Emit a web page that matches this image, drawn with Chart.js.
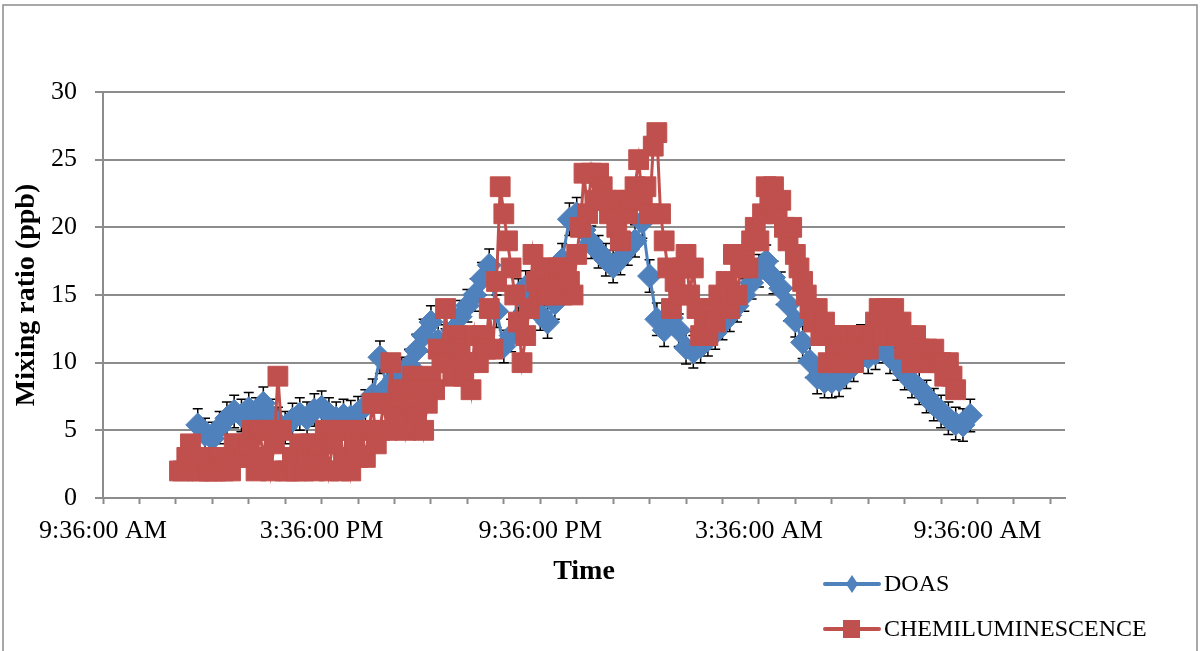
<!DOCTYPE html>
<html>
<head>
<meta charset="utf-8">
<script src="https://cdn.jsdelivr.net/npm/chart.js@4.4.0/dist/chart.umd.min.js"></script>
<style>
  body { margin: 0; background: #fff; }
  #graph { display: block; }
</style>
</head>
<body>
<canvas id="graph" width="1202" height="651"></canvas>
<script>
// times are hour of day; values above 24 belong to the next morning
var doasHours = [
  12.2, 12.4, 12.6, 12.8, 13.0, 13.2, 13.4, 13.6, 13.8, 14.0,
  14.2, 14.4, 14.6, 14.8, 15.0, 15.2, 15.4, 15.6, 15.8, 16.0,
  16.2, 16.4, 16.6, 16.8, 17.0, 17.2, 17.4, 17.6, 17.8, 18.0,
  18.2, 18.4, 18.6, 18.8, 19.0, 19.2, 19.4, 19.6, 19.8, 20.0,
  20.2, 20.4, 20.6, 20.8, 21.0, 21.2, 21.4, 21.6, 21.8, 22.0,
  22.2, 22.4, 22.6, 22.8, 23.0, 23.2, 23.4, 23.6, 23.8, 24.0,
  24.2, 24.4, 24.6, 24.8, 25.0, 25.2, 25.4, 25.6, 25.8, 26.0,
  26.2, 26.4, 26.6, 26.8, 27.0, 27.2, 27.4, 27.6, 27.8, 28.0,
  28.2, 28.4, 28.6, 28.8, 29.0, 29.2, 29.4, 29.6, 29.8, 30.0,
  30.2, 30.4, 30.6, 30.8, 31.0, 31.2, 31.4, 31.6, 31.8, 32.0,
  32.2, 32.4, 32.6, 32.8, 33.0, 33.2, 33.4
];
var doasValues = [
  5.4, 4.7, 4.4, 5.2, 5.9, 6.4, 6.1, 6.6, 6.2, 7.0,
  6.1, 5.5, 5.2, 5.8, 6.2, 5.9, 6.5, 6.7, 6.2, 5.9,
  6.1, 6.0, 6.3, 6.8, 7.6, 10.4, 8.2, 8.8, 9.2, 9.8,
  10.9, 12.0, 13.0, 11.6, 11.3, 12.4, 13.4, 14.2, 15.0, 16.2,
  17.2, 13.8, 11.2, 12.0, 15.0, 15.6, 14.6, 13.6, 13.0, 14.4,
  17.6, 20.6, 21.0, 19.8, 18.9, 18.2, 17.6, 17.1, 17.7, 18.4,
  19.0, 20.4, 16.4, 13.2, 12.4, 13.3, 12.4, 11.1, 10.8, 11.2,
  11.7, 12.2, 12.9, 13.5, 14.2, 15.0, 15.9, 16.8, 17.5, 16.3,
  15.5, 14.3, 13.1, 11.5, 10.1, 8.9, 8.6, 8.6, 8.7, 9.3,
  9.8, 11.6, 10.4, 10.7, 11.2, 10.4, 9.9, 9.2, 8.6, 8.1,
  7.5, 6.9, 6.4, 5.9, 5.5, 5.4, 6.1
];
var doasError = 1.2;

var chemHours = [
  11.7, 11.8, 11.9, 12.0, 12.1, 12.2, 12.3, 12.4, 12.5, 12.6,
  12.7, 12.8, 12.9, 13.0, 13.1, 13.2, 13.3, 13.4, 13.5, 13.6,
  13.7, 13.8, 13.9, 14.0, 14.1, 14.2, 14.3, 14.4, 14.5, 14.6,
  14.7, 14.8, 14.9, 15.0, 15.1, 15.2, 15.3, 15.4, 15.5, 15.6,
  15.7, 15.8, 15.9, 16.0, 16.1, 16.2, 16.3, 16.4, 16.5, 16.6,
  16.7, 16.8, 16.9, 17.0, 17.1, 17.2, 17.3, 17.4, 17.5, 17.6,
  17.7, 17.8, 17.9, 18.0, 18.1, 18.2, 18.3, 18.4, 18.5, 18.6,
  18.7, 18.8, 18.9, 19.0, 19.1, 19.2, 19.3, 19.4, 19.5, 19.6,
  19.7, 19.8, 19.9, 20.0, 20.1, 20.2, 20.3, 20.4, 20.5, 20.6,
  20.7, 20.8, 20.9, 21.0, 21.1, 21.2, 21.3, 21.4, 21.5, 21.6,
  21.7, 21.8, 21.9, 22.0, 22.1, 22.2, 22.3, 22.4, 22.5, 22.6,
  22.7, 22.8, 22.9, 23.0, 23.1, 23.2, 23.3, 23.4, 23.5, 23.6,
  23.7, 23.8, 23.9, 24.0, 24.1, 24.2, 24.3, 24.4, 24.5, 24.6,
  24.7, 24.8, 24.9, 25.0, 25.1, 25.2, 25.3, 25.4, 25.5, 25.6,
  25.7, 25.8, 25.9, 26.0, 26.1, 26.2, 26.3, 26.4, 26.5, 26.6,
  26.7, 26.8, 26.9, 27.0, 27.1, 27.2, 27.3, 27.4, 27.5, 27.6,
  27.7, 27.8, 27.9, 28.0, 28.1, 28.2, 28.3, 28.4, 28.5, 28.6,
  28.7, 28.8, 28.9, 29.0, 29.1, 29.2, 29.3, 29.4, 29.5, 29.6,
  29.7, 29.8, 29.9, 30.0, 30.1, 30.2, 30.3, 30.4, 30.5, 30.6,
  30.7, 30.8, 30.9, 31.0, 31.1, 31.2, 31.3, 31.4, 31.5, 31.6,
  31.7, 31.8, 31.9, 32.0, 32.1, 32.2, 32.3, 32.4, 32.5, 32.6,
  32.7, 32.8, 32.9, 33.0
];
var chemValues = [
  2, 2, 3, 4, 3, 2, 2, 3, 2, 2,
  2, 3, 2, 3, 2, 4, 3, 4, 3, 4,
  5, 2, 5, 3, 5, 2, 4, 9, 5, 2,
  2, 3, 2, 4, 2, 3, 4, 2, 3, 4,
  5, 2, 4, 5, 2, 3, 5, 2, 4, 3,
  5, 3, 5, 7, 4, 5, 7, 5, 10, 7,
  6, 8, 5, 7, 9, 6, 8, 5, 7, 9,
  8, 11, 10, 14, 10, 9, 12, 11, 9, 10,
  8, 12, 10, 12, 11, 14, 11, 16, 23, 21,
  19, 17, 15, 13, 10, 12, 14, 18, 16, 15,
  17, 15, 17, 16, 17, 15, 17, 16, 15, 18,
  20, 24, 21, 24, 22, 24, 23, 22, 21, 22,
  20, 19, 22, 21, 22, 23, 25, 22, 23, 21,
  26, 27, 21, 19, 17, 14, 16, 15, 17, 18,
  15, 17, 14, 12, 13, 12, 14, 13, 15, 14,
  16, 14, 18, 15, 17, 18, 17, 19, 20, 19,
  21, 23, 22, 23, 21, 22, 20, 19, 20, 18,
  17, 16, 15, 14, 13, 14, 12, 13, 10, 12,
  11, 12, 10, 12, 11, 10, 12, 11, 12, 11,
  12, 13, 14, 12, 14, 13, 14, 12, 13, 11,
  12, 10, 12, 11, 10, 11, 10, 11, 10, 10,
  9, 10, 9, 8
];

var timeLabels = ['9:36:00 AM', '3:36:00 PM', '9:36:00 PM', '3:36:00 AM', '9:36:00 AM'];

var blue = '#4F81BD';
var red = '#C0504D';
var axisGrey = '#8c8c8c';
var serif = "'Liberation Serif', 'Times New Roman', serif";

function toPoints(xs, ys) {
  return xs.map(function(x, i) {
    return { x: x, y: ys[i] };
  });
}

// white page with the thin grey frame round the whole chart
var framePlugin = {
  id: 'frame',
  beforeDraw: function(c) {
    var ctx = c.ctx;
    ctx.save();
    ctx.fillStyle = '#fff';
    ctx.fillRect(0, 0, c.width, c.height);
    ctx.strokeStyle = axisGrey;
    ctx.lineWidth = 1.5;
    ctx.strokeRect(3, 5, 1194, 700);
    ctx.restore();
  }
};

// black error bars on the DOAS points, under both series
var errorBarPlugin = {
  id: 'errorBars',
  beforeDatasetsDraw: function(c) {
    var ctx = c.ctx;
    var xs = c.scales.x, ys = c.scales.y;
    ctx.save();
    ctx.strokeStyle = '#000';
    ctx.lineWidth = 1.5;
    doasHours.forEach(function(h, i) {
      var px = xs.getPixelForValue(h);
      var top = ys.getPixelForValue(doasValues[i] + doasError);
      var bottom = ys.getPixelForValue(doasValues[i] - doasError);
      ctx.beginPath();
      ctx.moveTo(px, top);
      ctx.lineTo(px, bottom);
      ctx.moveTo(px - 5, top);
      ctx.lineTo(px + 5, top);
      ctx.moveTo(px - 5, bottom);
      ctx.lineTo(px + 5, bottom);
      ctx.stroke();
    });
    ctx.restore();
  }
};

// legend stacked under the x axis, bottom right
var legendPlugin = {
  id: 'sideLegend',
  afterDraw: function(c) {
    var ctx = c.ctx;
    ctx.save();
    ctx.lineCap = 'round';
    ctx.lineWidth = 4;

    ctx.strokeStyle = blue;
    ctx.beginPath();
    ctx.moveTo(825, 584);
    ctx.lineTo(879, 584);
    ctx.stroke();
    ctx.fillStyle = blue;
    ctx.beginPath();
    ctx.moveTo(846, 584);
    ctx.lineTo(852, 575);
    ctx.lineTo(858, 584);
    ctx.lineTo(852, 593);
    ctx.closePath();
    ctx.fill();

    ctx.strokeStyle = red;
    ctx.beginPath();
    ctx.moveTo(825, 629);
    ctx.lineTo(879, 629);
    ctx.stroke();
    ctx.fillStyle = red;
    ctx.fillRect(843, 620, 17, 18);

    ctx.fillStyle = '#000';
    ctx.font = '24px ' + serif;
    ctx.textBaseline = 'middle';
    ctx.textAlign = 'left';
    ctx.fillText(c.data.datasets[1].label, 884, 585);
    ctx.fillText(c.data.datasets[0].label, 884, 630);
    ctx.restore();
  }
};

function chartSetup() {
  var data = {
    type: 'line',
    data: {
      datasets: [{
        label: 'CHEMILUMINESCENCE',
        data: toPoints(chemHours, chemValues),
        borderColor: red,
        backgroundColor: red,
        borderWidth: 3,
        pointStyle: 'rect',
        pointRadius: 14,
        pointBorderWidth: 1,
        pointBorderColor: red,
        pointBackgroundColor: red,
        tension: 0,
        order: 0
      }, {
        label: 'DOAS',
        data: toPoints(doasHours, doasValues),
        borderColor: blue,
        backgroundColor: blue,
        borderWidth: 3,
        pointStyle: 'rectRot',
        pointRadius: 12,
        pointBorderWidth: 1,
        pointBorderColor: blue,
        pointBackgroundColor: blue,
        tension: 0,
        order: 1
      }]
    },
    options: {
      responsive: false,
      animation: false,
      layout: {
        padding: { left: 0, top: 92, right: 137, bottom: 0 }
      },
      plugins: {
        legend: { display: false },
        tooltip: { enabled: false }
      },
      scales: {
        x: {
          type: 'linear',
          min: 9.6,
          max: 36,
          afterBuildTicks: function(scale) {
            var ticks = [];
            for (var h = 0; h <= 26; h++) {
              ticks.push({ value: 9.6 + h });
            }
            scale.ticks = ticks;
          },
          afterFit: function(scale) {
            scale.height = 153;
          },
          grid: {
            drawOnChartArea: false,
            tickLength: 6,
            tickColor: axisGrey,
            tickWidth: 2
          },
          border: { color: axisGrey, width: 2 },
          ticks: {
            autoSkip: false,
            maxRotation: 0,
            padding: 12,
            color: '#000',
            font: { family: serif, size: 26 },
            callback: function(value, index) {
              return index % 6 === 0 ? timeLabels[index / 6] : '';
            }
          },
          title: {
            display: true,
            text: 'Time',
            color: '#000',
            font: { family: serif, size: 28, weight: 'bold' },
            padding: { top: 0, bottom: 62 }
          }
        },
        y: {
          min: 0,
          max: 30,
          afterFit: function(scale) {
            scale.width = 103;
          },
          grid: {
            color: axisGrey,
            lineWidth: 2,
            tickLength: 8
          },
          border: { color: axisGrey, width: 2 },
          ticks: {
            stepSize: 5,
            padding: 18,
            color: '#000',
            font: { family: serif, size: 26 }
          },
          title: {
            display: true,
            text: 'Mixing ratio (ppb)',
            color: '#000',
            font: { family: serif, size: 28, weight: 'bold' },
            padding: { top: 10, bottom: 0 }
          }
        }
      }
    },
    plugins: [framePlugin, errorBarPlugin, legendPlugin]
  };
  return data;
}

var context = document.querySelector('#graph').getContext('2d');
var chart = new Chart(context, chartSetup());
</script>
</body>
</html>
